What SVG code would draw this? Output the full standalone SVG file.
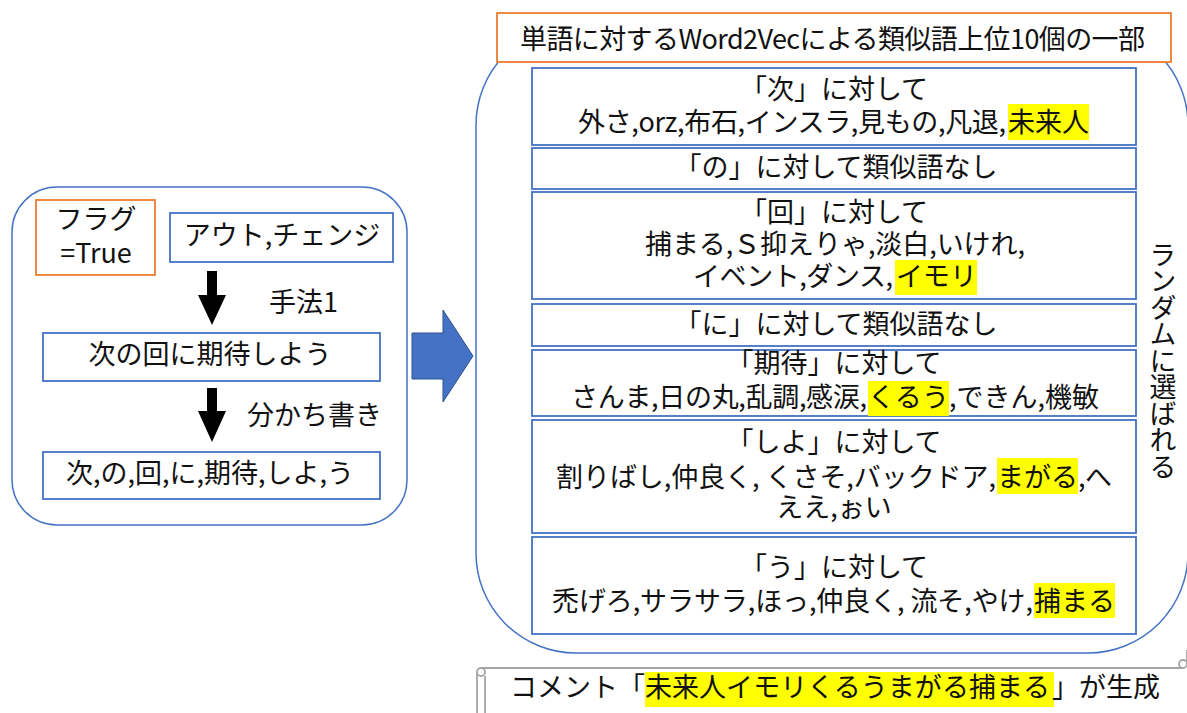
<svg xmlns="http://www.w3.org/2000/svg" width="1187" height="713" viewBox="0 0 1187 713">
<style>
text{font-family:"Noto Sans CJK JP","Noto Sans",sans-serif;font-size:27px;fill:#111}
.c{text-anchor:middle}
.s{text-anchor:start}
.vert{writing-mode:vertical-rl;letter-spacing:-0.5px}
.blue{fill:#fff;stroke:#4472C4;stroke-width:1.8}
.panel{fill:#fff;stroke:#4472C4;stroke-width:1.5}
.orange{fill:#fff;stroke:#ED7D31;stroke-width:1.8}
.hl{fill:#FFFF00}
.blk{fill:#000}
.scroll{fill:none;stroke:#A6A6A6;stroke-width:1.8}
</style>
<rect width="1187" height="713" fill="#fff"/>

<!-- left panel -->
<g id="left-panel">
<rect class="panel" x="12" y="187" width="395" height="338" rx="45"/>
</g>
<g id="flag">
<rect class="orange" x="36" y="200" width="119" height="75"/>
<text class="c"><tspan x="96" y="229">フラグ</tspan><tspan x="96" y="263">=True</tspan></text>
</g>
<g id="out-change">
<rect class="blue" x="170" y="213" width="223" height="49"/>
<text class="c" x="282" y="245">アウト,チェンジ</text>
</g>
<g id="sentence">
<rect class="blue" x="43" y="333" width="337" height="48"/>
<text class="c" x="210" y="364">次の回に期待しよう</text>
</g>
<g id="tokens">
<rect class="blue" x="43" y="452" width="337" height="47"/>
<text class="c" x="210" y="483">次,の,回,に,期待,しよ,う</text>
</g>
<g id="label-method">
<text x="269" y="312">手法1</text>
</g>
<g id="label-wakachi">
<text x="247" y="425">分かち書き</text>
</g>

<!-- right panel -->
<g id="right-panel">
<rect class="panel" x="476" y="25" width="712" height="628" rx="100"/>
</g>
<g id="title">
<rect class="orange" x="497" y="13" width="674" height="49"/>
<text x="520" y="49" textLength="625">単語に対するWord2Vecによる類似語上位10個の一部</text>
</g>
<g id="row-tsugi">
<rect class="blue" x="532" y="68" width="604" height="77"/>
<rect class="hl" x="1008" y="104" width="81" height="36"/>
<text><tspan class="c" x="834" y="99">「次」に対して</tspan><tspan class="s" x="578" y="132" textLength="428">外さ,orz,布石,インスラ,見もの,凡退,</tspan><tspan class="s" x="1008" y="132" textLength="81">未来人</tspan></text>
</g>
<g id="row-no">
<rect class="blue" x="532" y="148" width="604" height="41"/>
<text class="c" x="836" y="177">「の」に対して類似語なし</text>
</g>
<g id="row-kai">
<rect class="blue" x="532" y="192" width="604" height="107"/>
<rect class="hl" x="895" y="260" width="82" height="35"/>
<text><tspan class="c" x="834" y="222">「回」に対して</tspan><tspan class="s" x="645" y="254" textLength="380">捕まる,Ｓ抑えりゃ,淡白,いけれ,</tspan><tspan class="s" x="693" y="286" textLength="200">イベント,ダンス,</tspan><tspan class="s" x="896" y="286" textLength="81">イモリ</tspan></text>
</g>
<g id="row-ni">
<rect class="blue" x="532" y="304" width="604" height="42"/>
<text class="c" x="836" y="334">「に」に対して類似語なし</text>
</g>
<g id="row-kitai">
<rect class="blue" x="532" y="350" width="604" height="66"/>
<rect class="hl" x="868" y="381" width="81" height="35"/>
<text><tspan class="c" x="834" y="373">「期待」に対して</tspan><tspan class="s" x="571" y="407" textLength="296">さんま,日の丸,乱調,感涙,</tspan><tspan class="s" x="868" y="407" textLength="81">くるう</tspan><tspan class="s" x="949" y="407" textLength="150">,できん,機敏</tspan></text>
</g>
<g id="row-shiyo">
<rect class="blue" x="532" y="420" width="604" height="113"/>
<rect class="hl" x="997" y="458" width="81" height="36"/>
<text><tspan class="c" x="834" y="452">「しよ」に対して</tspan><tspan class="s" x="556" y="487" textLength="440">割りばし,仲良く, くさそ,バックドア,</tspan><tspan class="s" x="997" y="487" textLength="81">まがる</tspan><tspan class="s" x="1078" y="487" textLength="34">,へ</tspan><tspan class="c" x="834" y="517">ええ,ぉい</tspan></text>
</g>
<g id="row-u">
<rect class="blue" x="532" y="537" width="604" height="97"/>
<rect class="hl" x="1034" y="583" width="81" height="35"/>
<text><tspan class="c" x="834" y="577">「う」に対して</tspan><tspan class="s" x="552" y="611" textLength="481">禿げろ,サラサラ,ほっ,仲良く, 流そ,やけ,</tspan><tspan class="s" x="1034" y="611" textLength="81">捕まる</tspan></text>
</g>
<g id="label-random">
<text class="vert" x="1163" y="241">ランダムに選ばれる</text>
</g>

<!-- comment scroll -->
<g id="comment">
<path class="scroll" d="M477,672 V720 M485,676 V720 M481,668 H1183 M1187,662 V650"/>
<circle class="scroll" cx="481" cy="672" r="4"/>
<circle class="scroll" cx="1183" cy="664" r="4"/>
<rect class="hl" x="645" y="672" width="409" height="35"/>
<text x="510" y="697">コメント「<tspan x="645" textLength="405">未来人イモリくるうまがる捕まる</tspan><tspan x="1052">」が生成</tspan></text>
</g>

<!-- connectors -->
<g id="connectors">
<polygon class="blk" points="207,271 217,271 217,295 226,295 212,325 198,295 207,295"/>
<polygon class="blk" points="207,388 217,388 217,411 226,411 212,442 198,411 207,411"/>
<polygon points="412,333 443,333 443,310 473,356 443,402 443,379 412,379" fill="#4472C4" stroke="#2F528F" stroke-width="1"/>
</g>
</svg>
